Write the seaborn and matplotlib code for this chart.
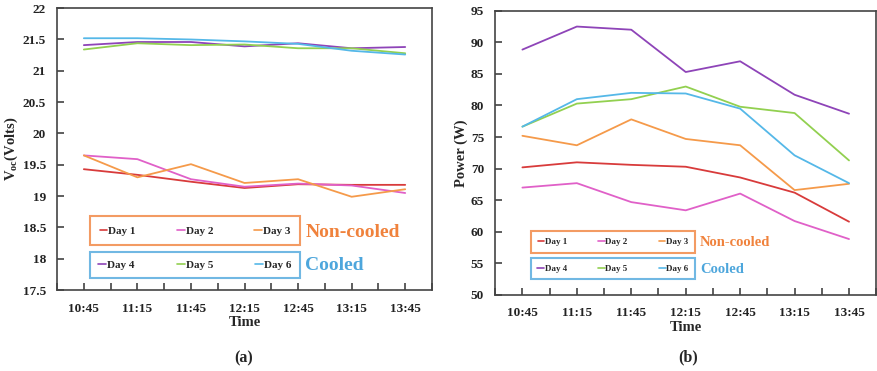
import numpy as np
import pandas as pd
import matplotlib
matplotlib.use('Agg')
import matplotlib.pyplot as plt
from matplotlib.lines import Line2D
import seaborn as sns

# данные
times = ['10:45', '11:15', '11:45', '12:15', '12:45', '13:15', '13:45']
days = ['Day 1', 'Day 2', 'Day 3', 'Day 4', 'Day 5', 'Day 6']

voc_day1 = [19.43, 19.34, 19.23, 19.13, 19.19, 19.18, 19.18]
voc_day2 = [19.65, 19.59, 19.27, 19.15, 19.20, 19.17, 19.05]
voc_day3 = [19.65, 19.30, 19.51, 19.21, 19.27, 18.99, 19.11]
voc_day4 = [21.41, 21.46, 21.46, 21.39, 21.44, 21.36, 21.38]
voc_day5 = [21.34, 21.44, 21.41, 21.42, 21.36, 21.36, 21.28]
voc_day6 = [21.52, 21.52, 21.50, 21.47, 21.43, 21.32, 21.26]

pow_day1 = [70.2, 71.0, 70.6, 70.3, 68.6, 66.2, 61.6]
pow_day2 = [67.0, 67.7, 64.7, 63.4, 66.05, 61.7, 58.85]
pow_day3 = [75.2, 73.7, 77.8, 74.7, 73.7, 66.6, 67.6]
pow_day4 = [88.85, 92.5, 92.0, 85.3, 87.0, 81.7, 78.7]
pow_day5 = [76.65, 80.3, 81.0, 83.0, 79.8, 78.8, 71.3]
pow_day6 = [76.65, 81.0, 82.0, 81.9, 79.5, 72.1, 67.7]

colors = ['#d83b3b', '#e060c8', '#f59a4a', '#8e44b8', '#92d050', '#55b8e8']
orange_box = '#f0823c'
blue_box = '#4da6dc'

voc = [voc_day1, voc_day2, voc_day3, voc_day4, voc_day5, voc_day6]
pw = [pow_day1, pow_day2, pow_day3, pow_day4, pow_day5, pow_day6]

df_voc = pd.DataFrame([(t, d, v) for d, vals in zip(days, voc) for t, v in zip(times, vals)],
                      columns=['Time', 'Day', 'Value'])
df_pow = pd.DataFrame([(t, d, v) for d, vals in zip(days, pw) for t, v in zip(times, vals)],
                      columns=['Time', 'Day', 'Value'])

sns.set_style('white')
plt.rcParams['font.family'] = ['Liberation Serif', 'DejaVu Serif']
plt.rcParams['font.weight'] = 'bold'
plt.rcParams['mathtext.fontset'] = 'custom'
plt.rcParams['mathtext.rm'] = 'Liberation Serif:bold'
plt.rcParams['mathtext.it'] = 'Liberation Serif:bold'

fig = plt.figure(figsize=(8.78, 3.71), dpi=100)
ax1 = fig.add_axes([0.065, 0.218, 0.427, 0.760])
ax2 = fig.add_axes([0.564, 0.205, 0.434, 0.766])

palette = dict(zip(days, colors))


def style_axes(ax, ylim, yticks, ylabel):
    ax.set_xlim(-0.5, 6.5)
    ax.set_ylim(*ylim)
    ax.set_yticks(yticks)
    ax.set_yticklabels([f'{v:g}' for v in yticks])
    ax.set_xticks(range(len(times)))
    ax.set_xticklabels(times)
    ax.set_xticks(np.arange(-0.5, 7, 1), minor=True)
    ax.tick_params(axis='both', which='both', direction='in', length=5,
                   width=1.1, colors='#333333', labelcolor='#222222', labelsize=9.5,
                   bottom=True, left=True)
    ax.tick_params(axis='y', pad=8)
    ax.tick_params(axis='x', pad=9)
    for sp in ax.spines.values():
        sp.set_color('#444444')
        sp.set_linewidth(1.2)
    ax.set_xlabel('Time', fontsize=10.5, fontweight='bold', labelpad=1)
    ax.set_ylabel(ylabel, fontsize=10.5, fontweight='bold', labelpad=2)


def add_legends(ax, orange_bbox, blue_bbox, fs, pads, txt_x, txt_y1, txt_y2, txt_fs):
    handles = [Line2D([0], [0], color=c, lw=1.2) for c in colors]
    leg1 = ax.legend(handles[:3], days[:3], loc='lower left', bbox_to_anchor=orange_bbox,
                     mode='expand', ncol=3, frameon=True, fancybox=False,
                     fontsize=fs, handlelength=0.7, handletextpad=0.1,
                     borderaxespad=0, borderpad=pads[0])
    leg1.get_frame().set_edgecolor(orange_box)
    leg1.get_frame().set_linewidth(1.5)
    ax.add_artist(leg1)
    leg2 = ax.legend(handles[3:], days[3:], loc='lower left', bbox_to_anchor=blue_bbox,
                     mode='expand', ncol=3, frameon=True, fancybox=False,
                     fontsize=fs, handlelength=0.7, handletextpad=0.1,
                     borderaxespad=0, borderpad=pads[1])
    leg2.get_frame().set_edgecolor(blue_box)
    leg2.get_frame().set_linewidth(1.5)
    ax.text(txt_x, txt_y1, 'Non-cooled', transform=ax.transAxes, color=orange_box,
            fontsize=txt_fs, fontweight='bold', va='center', ha='left')
    ax.text(txt_x, txt_y2, 'Cooled', transform=ax.transAxes, color=blue_box,
            fontsize=txt_fs, fontweight='bold', va='center', ha='left')


sns.lineplot(data=df_voc, x='Time', y='Value', hue='Day', palette=palette,
             linewidth=1.3, legend=False, ax=ax1)
style_axes(ax1, (17.5, 22), np.arange(17.5, 22.01, 0.5), r'V$_{oc}$(Volts)')
add_legends(ax1, (0.088, 0.16, 0.56, 0.1), (0.088, 0.043, 0.56, 0.1), 8, (0.85, 0.75),
            0.662, 0.205, 0.088, 14)

sns.lineplot(data=df_pow, x='Time', y='Value', hue='Day', palette=palette,
             linewidth=1.3, legend=False, ax=ax2)
style_axes(ax2, (50, 95), np.arange(50, 96, 5), 'Power (W)')
add_legends(ax2, (0.094, 0.148, 0.43, 0.06), (0.094, 0.056, 0.43, 0.07), 6.5, (0.75, 0.7),
            0.538, 0.183, 0.088, 10.5)

fig.text(0.277, 0.035, '(a)', fontsize=11.5, fontweight='bold', ha='center', va='center')
fig.text(0.784, 0.038, '(b)', fontsize=11.5, fontweight='bold', ha='center', va='center')

fig.savefig('out.png', dpi=100)
